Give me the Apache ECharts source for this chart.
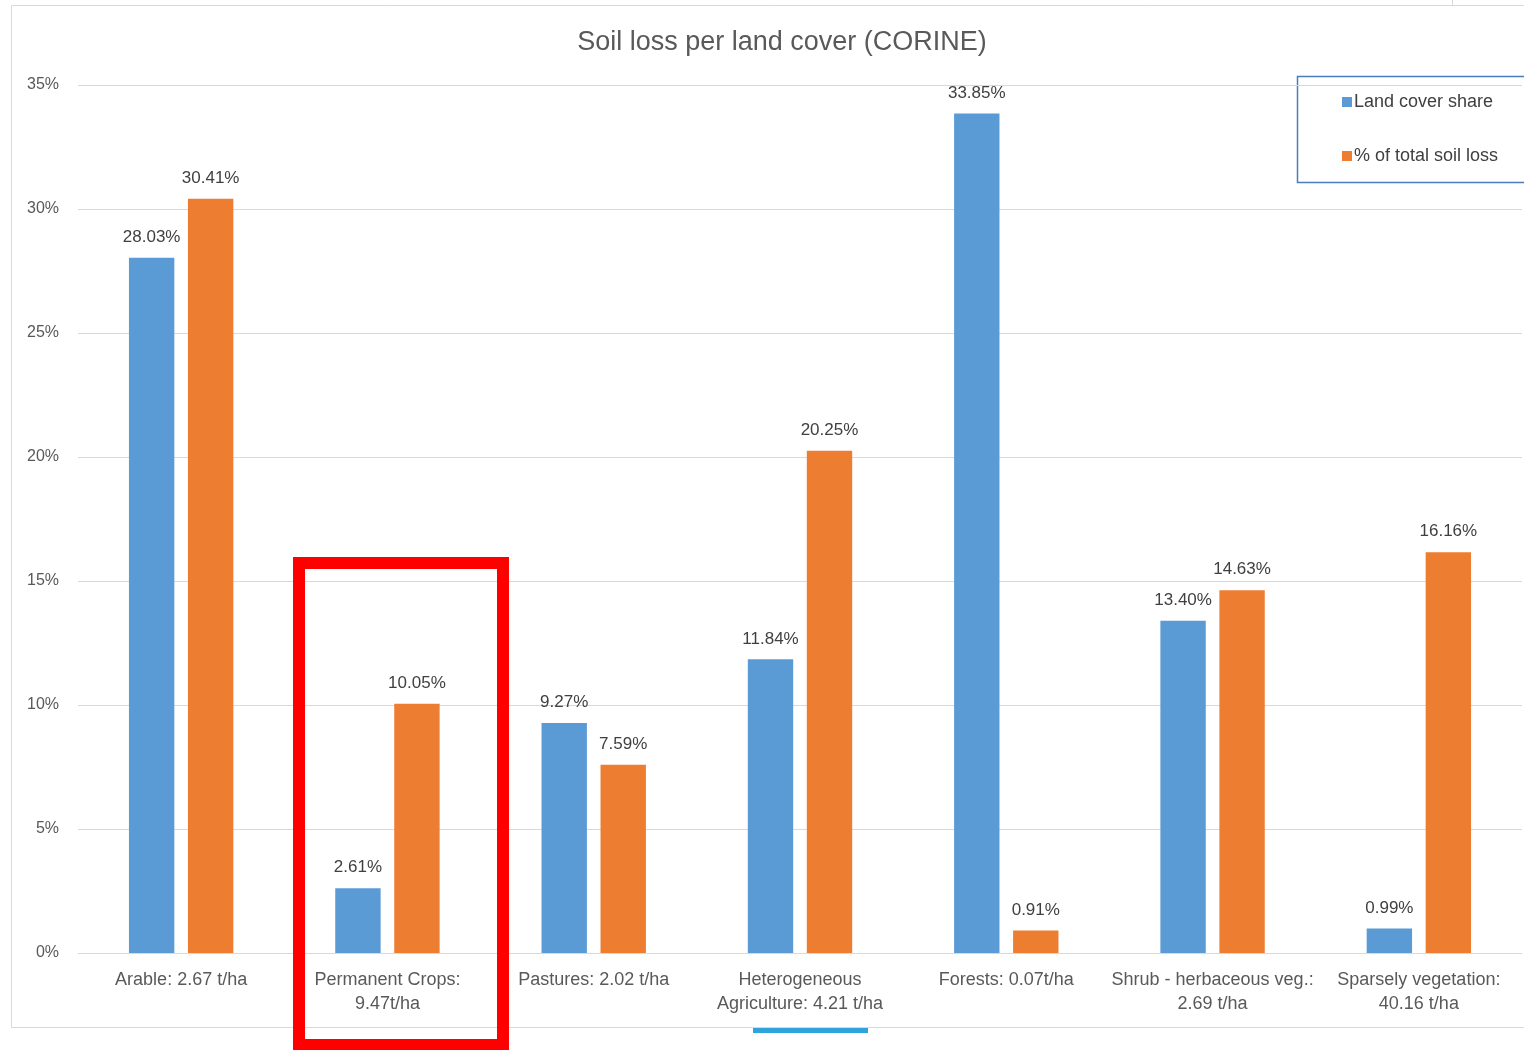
<!DOCTYPE html>
<html>
<head>
<meta charset="utf-8">
<script src="https://cdn.jsdelivr.net/npm/echarts@6/dist/echarts.min.js"></script>
<style>
html,body{margin:0;padding:0;background:#fff;}
#chart{width:1524px;height:1050px;}
</style>
</head>
<body>
<div id="chart"></div>
<script>
const categories = [
  "Arable: 2.67 t/ha",
  "Permanent Crops:\n9.47t/ha",
  "Pastures: 2.02 t/ha",
  "Heterogeneous\nAgriculture: 4.21 t/ha",
  "Forests: 0.07t/ha",
  "Shrub - herbaceous veg.:\n2.69 t/ha",
  "Sparsely vegetation:\n40.16 t/ha"
];
const landCoverShare = [28.03, 2.61, 9.27, 11.84, 33.85, 13.40, 0.99];
const soilLossShare = [30.41, 10.05, 7.59, 20.25, 0.91, 14.63, 16.16];
const seriesNames = ["Land cover share", "% of total soil loss"];
const titleText = "Soil loss per land cover (CORINE)";

const FONT = "Liberation Sans";
const chart = echarts.init(document.getElementById('chart'), null, {renderer: 'canvas'});
const labelOpt = {
  show: true, position: 'top', distance: 12,
  color: '#404040', fontSize: 17, fontFamily: FONT,
  formatter: p => p.value.toFixed(2) + '%'
};
chart.setOption({
  backgroundColor: '#ffffff',
  animation: false,
  textStyle: {fontFamily: FONT},
  title: {
    text: titleText, left: 777, textAlign: 'center', top: 24,
    textStyle: {fontSize: 27, fontWeight: 'normal', color: '#595959', fontFamily: FONT}
  },
  legend: {
    orient: 'vertical', left: 1337, top: 88, itemGap: 36,
    itemWidth: 10, itemHeight: 10, icon: 'rect',
    textStyle: {fontSize: 18, color: '#404040', fontFamily: FONT, padding: [0,0,0,-3]},
    data: seriesNames
  },
  grid: {left: 78, right: 2, top: 85, bottom: 97, containLabel: false},
  xAxis: {
    type: 'category', data: categories,
    axisLine: {lineStyle: {color: '#d9d9d9', width: 1}},
    axisTick: {show: false},
    axisLabel: {color: '#595959', fontSize: 18, fontFamily: FONT, lineHeight: 24, margin: 15, interval: 0}
  },
  yAxis: {
    type: 'value', min: 0, max: 35, interval: 5,
    axisLine: {show: false}, axisTick: {show: false},
    axisLabel: {formatter: '{value}%', color: '#595959', fontSize: 16, fontFamily: FONT, margin: 19},
    splitLine: {lineStyle: {color: '#d9d9d9', width: 1}}
  },
  series: [
    {name: seriesNames[0], type: 'bar', data: landCoverShare, barWidth: '22%', barGap: '30%',
     itemStyle: {color: '#5b9bd5'}, label: labelOpt},
    {name: seriesNames[1], type: 'bar', data: soilLossShare, barWidth: '22%', barGap: '30%',
     itemStyle: {color: '#ed7d31'}, label: labelOpt}
  ],
  graphic: [
    {type: 'rect', shape: {x: 11.5, y: 5.5, width: 1540, height: 1022}, style: {fill: 'none', stroke: '#d9d9d9', lineWidth: 1}, z: -1},
    {type: 'line', shape: {x1: 1452.5, y1: 0, x2: 1452.5, y2: 5}, style: {stroke: '#d9d9d9', lineWidth: 1}},
    {type: 'rect', shape: {x: 1297.5, y: 76.5, width: 260, height: 106}, style: {fill: 'none', stroke: '#4a7ebb', lineWidth: 1.5}},
    {type: 'rect', shape: {x: 753, y: 1028, width: 115, height: 5}, style: {fill: '#2ea3dc'}},
    {type: 'rect', shape: {x: 299, y: 563, width: 204, height: 482}, style: {fill: 'none', stroke: '#ff0000', lineWidth: 12}, z: 100}
  ]
});
</script>
</body>
</html>
